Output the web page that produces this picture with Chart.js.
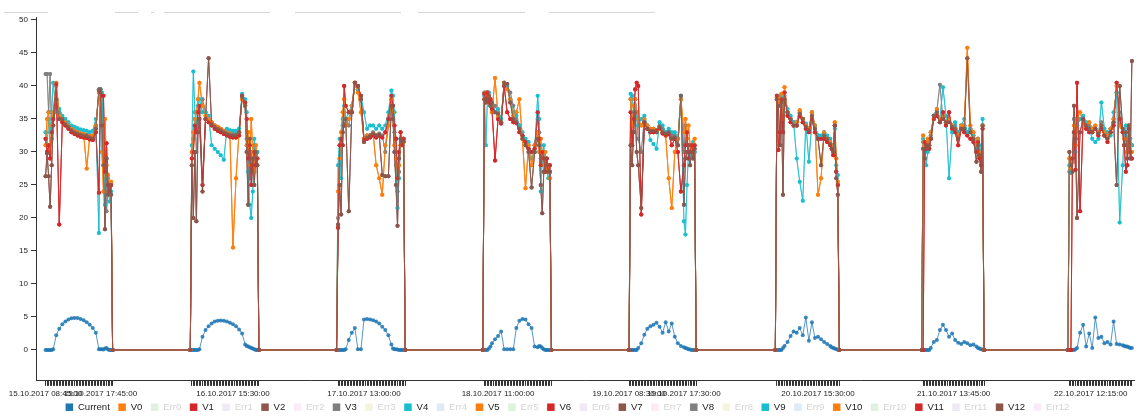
<!DOCTYPE html>
<html>
<head>
<meta charset="utf-8">
<script src="https://cdn.jsdelivr.net/npm/chart.js@4.4.1/dist/chart.umd.min.js"></script>
<style>
  html, body { margin: 0; padding: 0; background: #fff; }
  #wrap { position: relative; width: 1136px; height: 416px; }
  #chart { display: block; }
  .field { position: absolute; top: 12px; height: 0; border-top: 1px solid #d6d6d6; }
</style>
</head>
<body>
<div id="wrap">
  <canvas id="chart" width="1136" height="416"></canvas>
  <div class="field" style="left:4px;width:44px"></div>
  <div class="field" style="left:115px;width:23px"></div>
  <div class="field" style="left:151px;width:3px"></div>
  <div class="field" style="left:164px;width:106px"></div>
  <div class="field" style="left:295px;width:106px"></div>
  <div class="field" style="left:418px;width:107px"></div>
  <div class="field" style="left:549px;width:106px"></div>
</div>
<script>
// sample hours of each day (one reading list per day below)
const hours = [8.5, 8.75, 9, 9.25, 9.5, 9.75, 10, 10.5, 11, 11.5, 12, 12.5, 13, 13.5, 14, 14.5,
               15, 15.5, 16, 16.5, 17, 17.5, 17.75, 18, 18.25, 18.5, 18.75, 19, 19.25, 19.5, 19.75];

const current = [
  [null, 0, 0, 0, 0, 0, 0.1, 2.2, 3.2, 3.9, 4.3, 4.6, 4.8, 4.85, 4.85, 4.7, 4.5, 4.2, 3.8, 3.3, 2.6, 0.1, 0.1, 0.1, 0.05, 0.2, 0.3, 0.05, 0, 0, 0],
  [0, 0, 0, 0, 0, 0, 0.1, 2.0, 3.0, 3.6, 4.0, 4.3, 4.4, 4.45, 4.4, 4.3, 4.1, 3.9, 3.6, 3.1, 2.5, 0.8, 0.6, 0.5, 0.4, 0.3, 0.2, 0.1, 0, 0, 0],
  [0, 0, 0, 0, 0, 0, 0.1, 1.5, 2.6, 3.3, 0.1, 0.1, 4.6, 4.7, 4.6, 4.5, 4.3, 4.0, 3.5, 3.0, 2.2, 0.8, 0.2, 0.1, 0.1, 0.05, 0, 0, 0, 0, 0],
  [0, 0, 0, 0, 0.2, 0.5, 1.0, 1.6, 2.1, 2.8, 0.1, 0.1, 0.1, 0.1, 3.3, 4.4, 4.7, 4.6, 3.9, 3.3, 0.5, 0.4, 0.6, 0.5, 0.3, 0.1, 0, 0, 0, 0, 0],
  [0, 0, 0, 0, 0, 0, 0.3, 1.0, 2.3, 3.2, 3.6, 3.8, 4.1, 3.5, 2.6, 4.2, 2.8, 4.0, 2.0, 1.0, 0.6, 0.4, 0.3, 0.2, 0.1, 0.05, 0, 0, 0, 0, null],
  [0, 0, 0, 0, 0, 0.3, 0.6, 1.2, 2.1, 2.8, 2.6, 3.3, 2.2, 4.9, 1.4, 4.2, 1.8, 2.0, 1.6, 1.2, 0.9, 0.6, 0.4, 0.3, 0.2, 0.1, 0.05, 0, null, null, null],
  [0, 0, 0, 0, 0, 0, 0.3, 1.2, 1.5, 3.0, 3.8, 3.0, 2.0, 2.5, 1.5, 1.1, 0.9, 1.2, 1.0, 0.7, 0.8, 0.5, 0.3, 0.2, 0.1, 0.05, 0, null, null, null, null],
  [0, 0, 0, 0, 0, 0.1, 0.3, 2.6, 3.8, 0.5, 2.5, 0.3, 4.9, 1.8, 2.0, 1.0, 1.2, 0.8, 4.3, 0.9, 0.8, 0.7, 0.6, 0.5, 0.5, 0.4, 0.3, 0.3, null, null, null]
];

const vCyan = [
  [null, 33, 31, 35, 33, 36, 40.5, 36, 36.5, 35.5, 35, 34.5, 34, 33.8, 33.6, 33.4, 33.3, 33.2, 33.0, 33.2, 35, 17.7, 39.5, 39, 30, 22, 29, 26, 22.5, 24, 0],
  [0, 31, 42.2, 36, 34, 37, 38, 36, 36, 35.5, 31, 30.5, 30, 29.5, 28.8, 33.5, 33.3, 33.2, 33.2, 33.5, 38.8, 38, 36, 27, 22, 20, 24, 32, 29, 30, 0],
  [0, 28, 32, 26, 35, 37, 35, 36, 37, 40, 39.5, 38.5, 36, 33.5, 34, 34, 33.5, 34, 33.5, 34, 36, 39.3, 38.5, 36, 30, 21.5, 26, 32, 31.5, 32, 0],
  [0, 38.5, 31, 38, 39, 37, 37.5, 36, 36.5, 35, 40, 40, 38, 36, 35.5, 34, 33, 32, 31.5, 29, 30, 38.5, 35, 24, 29, 31, 28, 27, 26, 27, 0],
  [0, 38.8, 38.5, 36, 37, 35, 34, 35, 35.5, 34, 31.8, 31.2, 30.5, 34.5, 34, 33, 33.5, 33, 33, 32, 38.5, 19.5, 17.5, 25, 30, 29, 30, 31.5, 30, 0, null],
  [0, 38, 38.5, 38, 38.3, 36, 38.5, 36.5, 35.5, 34.5, 29, 25.5, 22.6, 34.3, 28.5, 34.5, 34, 32.5, 32.5, 33, 32.5, 32, 31, 31, 33.5, 28, 26.5, 0, null, null, null],
  [0, 32, 30, 28, 30, 31, 33, 35.5, 36, 35, 39.8, 35.5, 26, 33, 34.5, 33, 34, 35, 33, 33.5, 32.5, 30.5, 32, 31, 30, 35, 0, null, null, null, null],
  [0, 28, 27, 29, 33, 30, 34, 35, 35.5, 34.5, 33.5, 32, 31.5, 32, 37.5, 33.5, 33, 32.5, 36, 39, 19.3, 28, 33, 34, 30, 33, 32, 31, null, null, null]
];

const vOrange = [
  [null, 31, 35, 36, 30, 34, 36, 40.5, 35.5, 35, 34.5, 34, 33.5, 33.2, 33, 32.8, 32.7, 27.5, 32.4, 32.5, 34, 39, 38, 30, 24, 35, 28, 26.5, 25, 25.5, 0],
  [0, 30, 33, 35, 36, 38, 40.5, 37, 35.5, 35, 34.5, 34, 33.8, 33.5, 33.2, 33, 32.8, 15.5, 26, 33, 38, 37, 31, 33, 28, 35, 30, 27, 31, 29, 0],
  [0, 24, 29, 33, 36, 38, 34, 35, 37, 40.5, 39, 36, 32, 32.5, 32.5, 32.8, 28, 26, 23.5, 31, 34, 38, 36, 31, 29, 26, 28, 31, 32, 31.5, 0],
  [0, 38, 39, 38.5, 37.5, 38, 36, 41.2, 35.5, 34.5, 40.5, 39.5, 38, 35.5, 36, 38, 32, 24.5, 31, 28, 31, 33, 30, 32, 30, 28, 30, 27, 28, 26, 0],
  [0, 38, 34, 37, 38, 36, 35, 34, 35, 34, 33.5, 33.5, 33.2, 33.5, 33, 32.5, 26, 21.5, 30, 32, 38, 33, 35, 32, 34, 31, 30, 31, 32, 0, null],
  [0, 38.3, 37.5, 38, 38.8, 35, 39.8, 36, 35, 34, 34.5, 36.3, 35, 34, 33.5, 36, 34, 23.5, 26, 33, 32, 31.5, 31, 30, 34.5, 29, 25.5, 0, null, null, null],
  [0, 32.5, 31, 31.5, 32, 31, 33, 35, 36.5, 35, 35.5, 34.5, 35, 34, 33.5, 32.5, 34, 34, 45.8, 34, 33, 31, 32, 30, 29, 34, 0, null, null, null, null],
  [0, 29, 27.5, 28.5, 34, 31, 35, 36, 34.5, 34, 34.5, 33.5, 34, 33, 34, 33, 32.5, 33.5, 35, 40, 34, 33, 32, 32, 30, 34, 31, 30, null, null, null]
];

const vRed = [
  [null, 32, 30, 31, 29, 33, 35, 40.3, 19, 34.5, 34, 33.5, 33, 32.7, 32.5, 32.3, 32.2, 32.1, 31.9, 31.8, 33, 23.8, 39, 38.5, 38.5, 27, 31.3, 25, 24, 25, 0],
  [0, 29, 30, 34, 33, 36, 37, 25, 35, 34.5, 34, 33.5, 33.2, 33, 32.7, 32.5, 32.3, 32.2, 32.2, 32.5, 38.5, 37.5, 35, 29, 31, 25, 28, 30, 28, 29, 0],
  [0, 18.5, 31, 32, 31, 40, 37, 36, 36, 40.5, 40, 38.5, 31.8, 32, 32.2, 32.5, 32.2, 32.5, 32.2, 33, 35, 38.5, 37, 34, 32, 26, 30, 33, 31, 32, 0],
  [0, 38.8, 38, 39, 37.5, 38, 36.5, 28.7, 35, 34.3, 40, 36, 35, 34.5, 34.4, 33, 32.5, 31.5, 30.5, 30, 30.5, 36, 32, 28, 30, 29, 27, 29, 27, 28, 0],
  [0, 36, 31, 35, 39.5, 40.5, 40, 20.5, 34.5, 33.5, 33, 33, 33.2, 33.6, 32.8, 32.5, 32.7, 31, 32, 30, 24, 28, 31, 33, 29, 30, 31, 30, 31, 0, null],
  [0, 38.5, 30.3, 33, 38, 33, 39, 35.5, 34.5, 34, 34, 35.5, 34.5, 33.5, 33, 35, 33, 32, 32, 32, 31.5, 31, 30.5, 29.5, 34, 27, 25, 0, null, null, null],
  [0, 0, 31.5, 30.5, 31, 30.5, 32, 35, 35.5, 34.5, 36, 34, 36, 33.5, 33, 31, 33.5, 33, 32.5, 32, 31.5, 30, 31.5, 29, 28, 33.5, 0, null, null, null, null],
  [0, 0, 0, 29, 33, 27.3, 40.5, 21, 35, 33.5, 33, 33, 33.5, 32.5, 33.5, 32.5, 31.5, 33, 34, 40.5, 35, 33, 31, 27, 28, 33.5, 30, 29, null, null, null]
];

const vBrown = [
  [null, 26.3, 29.8, 26.3, 21.7, 28, 34, 38, 35, 35, 34.2, 33.8, 33.3, 33, 32.8, 32.6, 32.5, 32.4, 32.2, 32.0, 33.5, 39.3, 39.5, 34, 28, 18.3, 29, 23.5, 25, 23.5, 0],
  [0, 28, 20, 30, 19.5, 33, 35, 24, 35, 44.2, 34.2, 33.8, 33.5, 33.3, 33, 32.8, 32.6, 32.5, 32.5, 33, 38.5, 37, 30, 22, 32, 27, 29, 25, 30, 28, 0],
  [0, 19, 25, 20.5, 33, 34, 35, 21, 36, 40.5, 40, 38, 31.5, 32.2, 32.5, 32.8, 32.5, 32.6, 26.5, 26.3, 26.3, 37, 35, 30, 25, 18.8, 29, 32, 31.5, 31.6, 0],
  [0, 38, 37.5, 38, 38.5, 37, 37.5, 36, 35.8, 34.5, 40.5, 40.3, 37.5, 35, 34.5, 33.5, 32, 31, 30, 24.6, 30, 32, 31, 25, 20.7, 27, 29, 28, 27, 27, 0],
  [0, 31, 28, 33, 36, 30, 28, 21.5, 34.5, 33.5, 33.2, 33.2, 33, 33.8, 33, 32.8, 33, 32, 32.2, 31, 38.5, 22, 29, 30, 31, 28, 30, 29, 30.5, 0, null],
  [0, 38, 37, 31, 37.5, 23.5, 38, 36, 35, 34, 34, 35.8, 35, 33.8, 33.3, 35.5, 33.5, 32, 28, 32.5, 32, 31.2, 30.5, 30, 34, 26, 23.5, 0, null, null, null],
  [0, 30.5, 29, 31, 30.5, 31, 32, 35.5, 36, 34.5, 35, 34.5, 34.5, 33.8, 33.5, 32, 33.5, 33.5, 44.2, 33, 32, 28.5, 31, 29.5, 27, 34, 0, null, null, null, null],
  [0, 30, 28, 27, 37, 32, 20, 33, 35, 34, 33.5, 33, 33.5, 32.8, 34, 32.5, 32, 33, 34.5, 25, 40, 33.5, 31, 33, 29, 34, 29, 43.8, null, null, null]
];

const vGray = [
  [null, 41.8, 41.8, 36, 41.8, 32, 35, 40, 36, 35, 34.5, 34, 33.5, 33.2, 33, 32.8, 32.7, 32.6, 32.4, 32.3, 34, 39.5, 39, 38, 32, 30, 21, 24, 24, 25, 0],
  [0, 30, 32, 35, 30, 34, 36, 38, 36, 35, 34.5, 34, 33.7, 33.5, 33.2, 33, 32.8, 32.7, 32.7, 33, 38.3, 37, 32, 30, 26, 30, 27, 31, 29, 30, 0],
  [0, 20, 28, 30, 34, 36, 35, 34, 37, 40.5, 39.5, 38.5, 32, 32.5, 32.5, 33, 32.5, 32.8, 32.5, 30, 34, 38, 37, 33, 28, 24, 27, 31, 31.8, 32, 0],
  [0, 39, 38.5, 38, 37.5, 38, 37, 37, 36, 35, 40.5, 40, 39, 37, 35, 34, 32.5, 31.5, 31, 30, 31, 35, 33, 29, 28, 30, 27, 28, 28, 27, 0],
  [0, 38, 35, 36, 38, 36, 32, 30, 35, 34, 33.5, 33.5, 33.3, 34, 33.5, 33, 33, 32.5, 32.5, 31, 38, 30, 34, 31, 30, 30, 31, 31, 30, 0, null],
  [0, 38.5, 38, 37, 38, 35, 39, 36, 35, 34.5, 34.5, 36, 35, 34, 33.5, 36, 34, 32.5, 32, 32.8, 32, 31.5, 31, 30.5, 34, 27, 25, 0, null, null, null],
  [0, 31.5, 30.5, 31, 31, 31.5, 32.5, 35.5, 36.3, 40.2, 35, 34.5, 35, 34, 34, 32.5, 33.8, 34, 33, 33.5, 32.5, 30, 32, 30, 29, 34, 0, null, null, null, null],
  [0, 27, 26.8, 28.5, 35, 33, 34, 35, 35, 34, 34, 33.5, 33.8, 33, 34.5, 33, 32.5, 33.5, 35, 39, 36, 33, 32, 33, 30, 34, 31, 31, null, null, null]
];

const seriesNames = ['Current', 'V0', 'Err0', 'V1', 'Err1', 'V2', 'Err2', 'V3', 'Err3', 'V4', 'Err4',
  'V5', 'Err5', 'V6', 'Err6', 'V7', 'Err7', 'V8', 'Err8', 'V9', 'Err9', 'V10', 'Err10',
  'V11', 'Err11', 'V12', 'Err12'];

// which readings each visible series uses (Err series are switched off)
const seriesSource = {
  Current: current,
  V0: vOrange, V1: vRed, V2: vBrown, V3: vGray, V4: vCyan,
  V5: vOrange, V6: vRed, V7: vBrown, V8: vGray, V9: vCyan,
  V10: vOrange, V11: vRed, V12: vBrown
};

const xTickLabels = ['15.10.2017 08:45:00', '15.10.2017 17:45:00', '16.10.2017 15:30:00',
  '17.10.2017 13:00:00', '18.10.2017 11:00:00', '19.10.2017 08:30:00', '19.10.2017 17:30:00',
  '20.10.2017 15:30:00', '21.10.2017 13:45:00', '22.10.2017 12:15:00'];
const yTicks = [0, 5, 10, 15, 20, 25, 30, 35, 40, 45, 50];

const palette = ['#1f77b4', '#ff7f0e', '#2ca02c', '#d62728', '#9467bd',
                 '#8c564b', '#e377c2', '#7f7f7f', '#bcbd22', '#17becf'];
const FONT = "'Liberation Sans', Arial, sans-serif";

function rgba(hex, a) {
    const n = parseInt(hex.slice(1), 16);
    return `rgba(${(n >> 16) & 255},${(n >> 8) & 255},${n & 255},${a})`;
}

// hours counted from 15.10.2017 00:00
function toPoints(byDay) {
    const pts = [];
    byDay.forEach((vals, d) => {
        vals.forEach((v, i) => {
            if (v !== null) pts.push({ x: d * 24 + hours[i], y: v });
        });
    });
    return pts;
}

function labelHour(s) {
    const day = parseInt(s.slice(0, 2), 10) - 15;
    return day * 24 + parseInt(s.slice(11, 13), 10) + parseInt(s.slice(14, 16), 10) / 60;
}

const labelMap = new Map(xTickLabels.map(s => [labelHour(s), s]));

// --- x ticks: one per quarter hour while data is recorded, like the original axis ---
function buildXTicks(scale) {
    const vals = new Set();
    vCyan.forEach((dayVals, d) => {
        let last = 0;
        dayVals.forEach((v, i) => { if (v !== null) last = hours[i]; });
        for (let h = 8.75; h <= last + 0.001; h += 0.25) vals.add(d * 24 + h);
    });
    labelMap.forEach((_, v) => vals.add(v));
    scale.ticks = [...vals].sort((a, b) => a - b).map(v => ({ value: v }));
}

// legend sits a little higher than Chart.js puts it
const legendShift = {
    id: 'legendShift',
    afterLayout(chart) {
        if (chart.legend) {
            chart.legend.top -= 5;
            chart.legend.bottom -= 5;
        }
    }
};

const datasets = seriesNames.map((name, i) => {
    const color = palette[i % palette.length];
    const src = seriesSource[name];
    return {
        label: name,
        data: src ? toPoints(src) : [],
        hidden: !src,
        baseColor: color,
        borderColor: rgba(color, 0.75),
        backgroundColor: rgba(color, 0.85),
        pointBackgroundColor: rgba(color, 0.85),
        pointBorderWidth: 0,
        pointRadius: 2,
        pointHoverRadius: 2,
        borderWidth: 1,
        tension: 0,
        order: seriesNames.length - i
    };
});

new Chart(document.getElementById('chart').getContext('2d'), {
    type: 'line',
    data: { datasets: datasets },
    plugins: [legendShift],
    options: {
        responsive: false,
        animation: false,
        parsing: false,
        events: [],
        layout: { padding: { top: 17, right: 1, bottom: -11, left: 0 } },
        plugins: {
            tooltip: { enabled: false },
            legend: {
                position: 'bottom',
                onClick: () => {},
                labels: {
                    boxWidth: 7.5,
                    boxHeight: 7.5,
                    padding: 8.5,
                    font: { family: FONT, size: 9.6 },
                    generateLabels: chart => chart.data.datasets.map((ds, i) => ({
                        text: ds.label,
                        fillStyle: ds.hidden ? rgba(ds.baseColor, 0.15) : ds.baseColor,
                        strokeStyle: 'rgba(0,0,0,0)',
                        lineWidth: 0,
                        fontColor: ds.hidden ? 'rgba(0,0,0,0.18)' : '#222',
                        hidden: false,
                        datasetIndex: i
                    }))
                }
            }
        },
        scales: {
            x: {
                type: 'linear',
                min: 7.18,
                max: 187.35,
                afterFit: s => { s.height = 18; },
                afterBuildTicks: buildXTicks,
                border: { display: true, color: '#333', width: 1 },
                grid: { drawOnChartArea: false, drawTicks: true, tickLength: 5, color: '#333', tickColor: '#333' },
                ticks: {
                    autoSkip: false,
                    maxRotation: 0,
                    minRotation: 0,
                    padding: 3,
                    color: '#222',
                    font: { family: FONT, size: 8 },
                    callback: v => labelMap.get(v) || ''
                }
            },
            y: {
                min: -4.7,
                max: 50.45,
                afterFit: s => { s.width = 36; },
                afterBuildTicks: s => { s.ticks = yTicks.map(v => ({ value: v })); },
                border: { display: true, color: '#333', width: 1 },
                grid: { drawOnChartArea: false, drawTicks: true, tickLength: 5, color: '#333', tickColor: '#333' },
                ticks: {
                    padding: 3,
                    color: '#222',
                    font: { family: FONT, size: 8 }
                }
            }
        }
    }
});
</script>
</body>
</html>
